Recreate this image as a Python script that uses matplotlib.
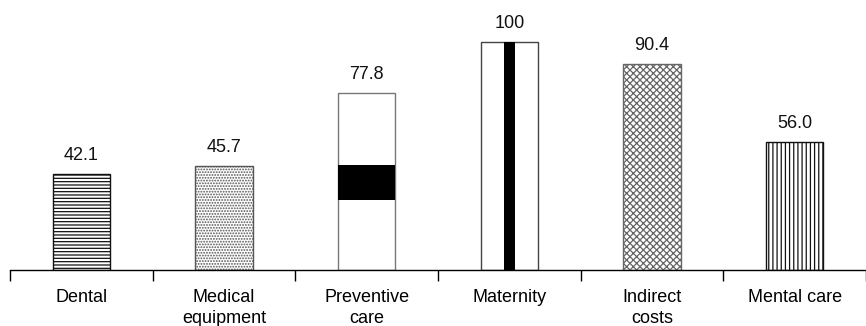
import numpy as np
import matplotlib.pyplot as plt

plt.rcParams['font.family'] = ['Liberation Sans', 'DejaVu Sans']
plt.rcParams['hatch.linewidth'] = 0.9

# data
categories = ["Dental", "Medical\nequipment", "Preventive\ncare",
              "Maternity", "Indirect\ncosts", "Mental care"]
values = [42.1, 45.7, 77.8, 100, 90.4, 56.0]
value_labels = ["42.1", "45.7", "77.8", "100", "90.4", "56.0"]

# styles per bar
hatches = ['-' * 5, '.' * 6, '', '', 'x' * 5, '|' * 4]
edges = ['#111111', '#555555', '#777777', '#444444', '#666666', '#111111']

fig = plt.figure(figsize=(8.66, 3.26), dpi=100)
ax = fig.add_axes([10 / 866, 1 - 270 / 326, 1 - 10 / 866, 270 / 326])

x = np.arange(len(categories))
w = 0.4
for i in range(len(values)):
    ax.bar(x[i], values[i], width=w, color='white', edgecolor=edges[i],
           hatch=hatches[i], linewidth=1.0, zorder=2)

# decorations inside preventive care and maternity bars
ax.bar(x[2], values[2] * 0.197, bottom=values[2] * 0.395, width=w,
       color='black', linewidth=0, zorder=3)
ax.bar(x[3], values[3], width=0.076, color='black', linewidth=0, zorder=3)

for i in range(len(values)):
    ax.annotate(value_labels[i], (x[i], values[i]), xytext=(0, 10),
                textcoords='offset points', ha='center', va='baseline',
                fontsize=13, color='#111111')

ax.set_xlim(-0.5, 5.425)
ax.set_ylim(0, 118.4)
ax.set_yticks([])
for s in ['top', 'right', 'left']:
    ax.spines[s].set_visible(False)
ax.spines['bottom'].set_linewidth(1.0)

ax.set_xticks(np.arange(len(categories) + 1) - 0.5)
ax.set_xticklabels([])
ax.tick_params(axis='x', which='major', length=8, width=1.0, direction='out')
ax.set_xticks(x, minor=True)
ax.set_xticklabels(categories, minor=True, fontsize=13, linespacing=1.3)
ax.tick_params(axis='x', which='minor', length=0, pad=14)

fig.savefig("out.png", dpi=100)
